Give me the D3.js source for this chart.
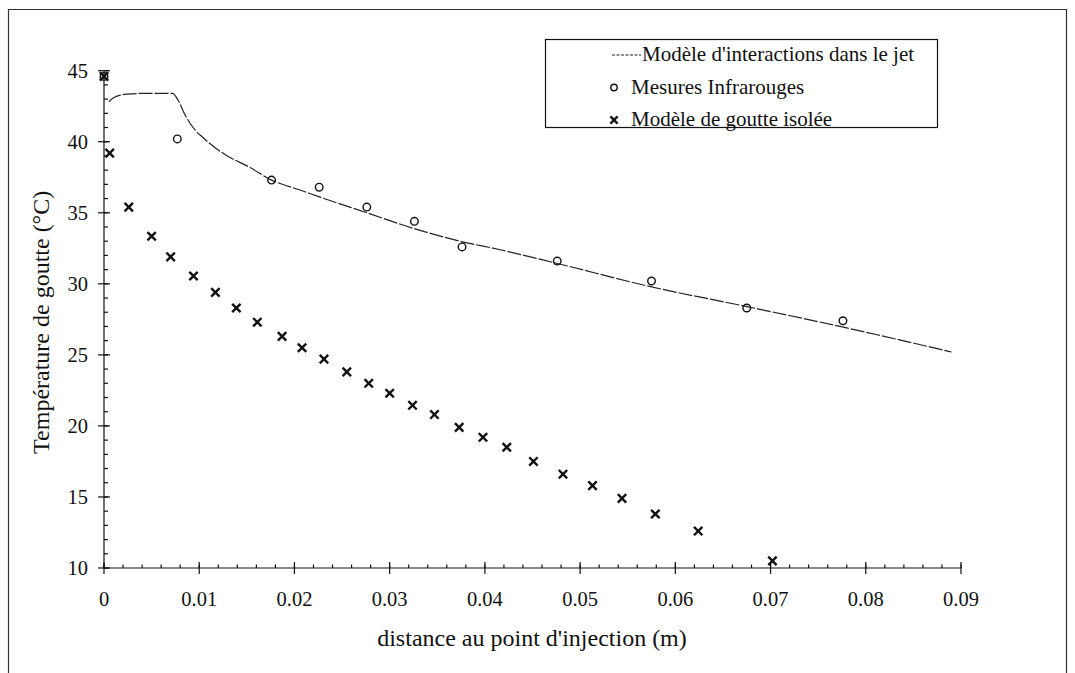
<!DOCTYPE html>
<html>
<head>
<meta charset="utf-8">
<script src="https://cdn.jsdelivr.net/npm/d3@7/dist/d3.min.js"></script>
<style>
  html, body { margin: 0; padding: 0; background: #fff; }
  svg { display: block; }
</style>
</head>
<body>
<svg id="chart" width="1075" height="673"></svg>
<script>
// Modèle d'interactions dans le jet (continuous curve)
const modelX = [0.0005, 0.001, 0.0024, 0.004, 0.0072, 0.0078, 0.0085, 0.0096, 0.0103, 0.0127, 0.0153, 0.0176, 0.0206, 0.0227, 0.0276, 0.0325, 0.0374, 0.0416, 0.0475, 0.0574, 0.0675, 0.0773, 0.0813, 0.089];
const modelT = [42.8, 43.1, 43.35, 43.4, 43.4, 42.9, 41.9, 40.8, 40.35, 39.1, 38.2, 37.3, 36.6, 36.1, 35.0, 33.9, 33.0, 32.4, 31.45, 29.8, 28.4, 27.0, 26.4, 25.2];

// Mesures Infrarouges (circles)
const irX = [0.0, 0.0077, 0.0176, 0.0226, 0.0276, 0.0326, 0.0376, 0.0476, 0.0575, 0.0675, 0.0776];
const irT = [44.6, 40.2, 37.3, 36.8, 35.4, 34.4, 32.6, 31.6, 30.2, 28.3, 27.4];

// Modèle de goutte isolée (crosses)
const isoX = [0.0, 0.0006, 0.0026, 0.0050, 0.0070, 0.0094, 0.0117, 0.0139, 0.0161, 0.0187, 0.0208, 0.0231, 0.0255, 0.0278, 0.0300, 0.0324, 0.0347, 0.0373, 0.0398, 0.0423, 0.0451, 0.0482, 0.0513, 0.0544, 0.0579, 0.0624, 0.0702];
const isoT = [44.6, 39.2, 35.4, 33.35, 31.9, 30.55, 29.4, 28.3, 27.3, 26.3, 25.5, 24.7, 23.8, 23.0, 22.3, 21.45, 20.8, 19.9, 19.2, 18.5, 17.5, 16.6, 15.8, 14.9, 13.8, 12.6, 10.5];

const xTicks = [0, 0.01, 0.02, 0.03, 0.04, 0.05, 0.06, 0.07, 0.08, 0.09];
const xTickLabels = ["0", "0.01", "0.02", "0.03", "0.04", "0.05", "0.06", "0.07", "0.08", "0.09"];
const yTicks = [10, 15, 20, 25, 30, 35, 40, 45];
const legendLabels = ["Modèle d'interactions dans le jet", "Mesures Infrarouges", "Modèle de goutte isolée"];
const xTitle = "distance au point d'injection (m)";
const yTitle = "Température de goutte (°C)";

const FONT = "'Liberation Serif', 'Times New Roman', serif";
const svg = d3.select("#chart");
const ink = "#111";

const x = d3.scaleLinear().domain([0, 0.09]).range([104, 961]);
const y = d3.scaleLinear().domain([10, 45]).range([568, 70.7]);

function label(g, px, py, txt, size, anchor) {
  return g.append("text").attr("x", px).attr("y", py).attr("text-anchor", anchor || "start")
    .style("font-family", FONT).style("font-size", size + "px").attr("fill", ink).text(txt);
}

// page frame
svg.append("path")
  .attr("d", "M8.5,680 L8.5,9.5 L1066.5,9.5 L1066.5,680")
  .attr("fill", "none").attr("stroke", "#333").attr("stroke-width", 1.2);

// axes lines
const axes = svg.append("g").attr("stroke", ink).attr("stroke-width", 1.2).attr("fill", "none");
axes.append("line").attr("x1", x(0)).attr("x2", x(0.09)).attr("y1", y(10)).attr("y2", y(10));
axes.append("line").attr("x1", x(0)).attr("x2", x(0)).attr("y1", y(10)).attr("y2", y(45));

// x minor ticks (every 0.002, pointing up) and major ticks (crossing)
d3.range(0, 46).map(i => i * 0.002).forEach(v => {
  axes.append("line").attr("x1", x(v)).attr("x2", x(v)).attr("y1", y(10)).attr("y2", y(10) - 3.5);
});
xTicks.forEach(v => {
  axes.append("line").attr("x1", x(v)).attr("x2", x(v)).attr("y1", y(10) - 6).attr("y2", y(10) + 6);
});
// y minor ticks (every 1, pointing right) and major ticks (crossing)
d3.range(10, 46).forEach(v => {
  axes.append("line").attr("x1", x(0)).attr("x2", x(0) + 4).attr("y1", y(v)).attr("y2", y(v));
});
yTicks.forEach(v => {
  axes.append("line").attr("x1", x(0) - 6).attr("x2", x(0) + 6).attr("y1", y(v)).attr("y2", y(v));
});

// tick labels
const labels = svg.append("g");
xTicks.forEach((v, i) => label(labels, x(v), y(10) + 37.5, xTickLabels[i], 20.5, "middle"));
yTicks.forEach(v => label(labels, x(0) - 16, y(v) + 7, v, 20.5, "end"));

// axis titles
label(svg, 532, 646, xTitle, 24, "middle");
label(svg.append("g").attr("transform", `translate(49,${(y(10) + y(45)) / 2 + 3}) rotate(-90)`),
  0, 0, yTitle, 24, "middle");

// model curve
const line = d3.line().x((d, i) => x(modelX[i])).y((d, i) => y(modelT[i])).curve(d3.curveMonotoneX);
svg.append("path").datum(modelX).attr("d", line)
  .attr("fill", "none").attr("stroke", "#222").attr("stroke-width", 1.2)
  .attr("stroke-dasharray", "14,2");

// marker helpers
function cross(g, cx, cy, s) {
  g.append("path")
    .attr("d", `M${cx - s},${cy - s}L${cx + s},${cy + s}M${cx - s},${cy + s}L${cx + s},${cy - s}`)
    .attr("stroke", ink).attr("stroke-width", 2.4).attr("fill", "none");
}
function circle(g, cx, cy, r) {
  g.append("circle").attr("cx", cx).attr("cy", cy).attr("r", r)
    .attr("fill", "none").attr("stroke", ink).attr("stroke-width", 1.4);
}

const marks = svg.append("g");
irX.forEach((v, i) => circle(marks, x(v), y(irT[i]), 3.8));
isoX.forEach((v, i) => cross(marks, x(v), y(isoT[i]), 4.2));

// legend
const lg = svg.append("g");
lg.append("rect").attr("x", 545.5).attr("y", 39.5).attr("width", 392).attr("height", 88)
  .attr("fill", "#fff").attr("stroke", ink).attr("stroke-width", 1.2);
lg.append("line").attr("x1", 612).attr("x2", 641).attr("y1", 55).attr("y2", 55)
  .attr("stroke", "#222").attr("stroke-width", 1.1).attr("stroke-dasharray", "3,1.5");
circle(lg, 614, 87.5, 3.2);
cross(lg, 614, 120, 3.6);
const lx = [642, 631, 631];
const ly = [61, 94, 126];
legendLabels.forEach((t, i) => label(lg, lx[i], ly[i], t, 21));
</script>
</body>
</html>
